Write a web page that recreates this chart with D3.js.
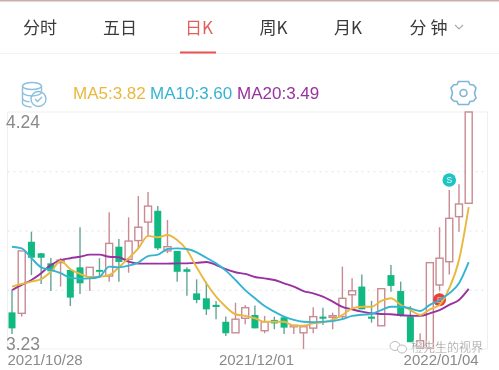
<!DOCTYPE html>
<html>
<head>
<meta charset="utf-8">
<script src="https://d3js.org/d3.v7.min.js"></script>
<style>
    html, body { margin: 0; padding: 0; background: #fff; }
    svg { display: block; filter: blur(0.4px); }
    text { font-family: "Noto Sans CJK SC", "Noto Sans", sans-serif; }
    .num { font-family: "Liberation Sans", sans-serif; }
</style>
</head>
<body>
<div id="chart"></div>
<script>
const tabs = ["分时", "五日", "日K", "周K", "月K", "分 钟"];
const legendLabels = ["MA5:3.82", "MA10:3.60", "MA20:3.49"];
const priceLabels = [4.24, 3.23];
const gridPrices = [3.9875, 3.735, 3.4825];
const dateTicks = [0, 25, 47];
const dateLabels = ["2021/10/28", "2021/12/01", "2022/01/04"];

const opens = [3.386, 3.382, 3.687, 3.638, 3.595, 3.598, 3.567, 3.578, 3.538, 3.567, 3.541, 3.666,
    3.612, 3.692, 3.771, 3.819, 3.648, 3.648, 3.570, 3.467, 3.446, 3.418, 3.346, 3.299,
    3.361, 3.375, 3.308, 3.354, 3.365, 3.325, 3.299, 3.319, 3.368, 3.365, 3.368, 3.461,
    3.496, 3.368, 3.329, 3.545, 3.477, 3.368, 3.234, 3.234, 3.503, 3.602, 3.794, 3.851];
const closes = [3.318, 3.648, 3.619, 3.619, 3.561, 3.609, 3.449, 3.510, 3.578, 3.559, 3.680, 3.601,
    3.690, 3.749, 3.839, 3.659, 3.666, 3.559, 3.559, 3.439, 3.399, 3.409, 3.297, 3.357,
    3.406, 3.318, 3.346, 3.339, 3.321, 3.331, 3.325, 3.368, 3.359, 3.372, 3.446, 3.478,
    3.399, 3.359, 3.487, 3.499, 3.371, 3.259, 3.265, 3.598, 3.617, 3.787, 3.848, 4.24];
const highs = [3.481, 3.648, 3.730, 3.639, 3.618, 3.618, 3.567, 3.749, 3.578, 3.617, 3.813, 3.699,
    3.791, 3.882, 3.899, 3.839, 3.780, 3.648, 3.578, 3.527, 3.517, 3.435, 3.368, 3.427,
    3.418, 3.415, 3.371, 3.368, 3.371, 3.331, 3.331, 3.408, 3.406, 3.385, 3.581, 3.531,
    3.548, 3.435, 3.487, 3.588, 3.517, 3.413, 3.297, 3.598, 3.749, 3.908, 3.932, 4.24];
const lows = [3.294, 3.368, 3.545, 3.507, 3.477, 3.496, 3.413, 3.464, 3.477, 3.533, 3.517, 3.517,
    3.555, 3.656, 3.709, 3.652, 3.638, 3.517, 3.457, 3.425, 3.375, 3.357, 3.285, 3.299,
    3.336, 3.318, 3.297, 3.314, 3.294, 3.294, 3.23, 3.297, 3.332, 3.314, 3.354, 3.403,
    3.399, 3.342, 3.329, 3.474, 3.368, 3.259, 3.23, 3.23, 3.481, 3.548, 3.730, 3.851];

const ma5 = [3.496, 3.507, 3.517, 3.528, 3.559, 3.605, 3.570, 3.550, 3.536, 3.538, 3.545, 3.578,
    3.617, 3.659, 3.712, 3.706, 3.716, 3.695, 3.652, 3.578, 3.510, 3.453, 3.410, 3.378,
    3.371, 3.361, 3.346, 3.346, 3.346, 3.329, 3.329, 3.339, 3.344, 3.354, 3.375, 3.403,
    3.410, 3.410, 3.435, 3.446, 3.418, 3.396, 3.375, 3.399, 3.418, 3.489, 3.609, 3.835];
const ma10 = [3.666, 3.659, 3.617, 3.578, 3.567, 3.553, 3.534, 3.530, 3.531, 3.538, 3.581, 3.578,
    3.585, 3.598, 3.626, 3.632, 3.656, 3.659, 3.656, 3.642, 3.619, 3.595, 3.564, 3.524,
    3.481, 3.446, 3.413, 3.389, 3.368, 3.354, 3.346, 3.344, 3.346, 3.349, 3.357, 3.371,
    3.376, 3.379, 3.396, 3.410, 3.410, 3.403, 3.392, 3.418, 3.439, 3.467, 3.510, 3.600];
const ma20 = [3.481, 3.503, 3.524, 3.553, 3.588, 3.609, 3.617, 3.623, 3.632, 3.632, 3.623, 3.621,
    3.602, 3.594, 3.594, 3.594, 3.594, 3.595, 3.595, 3.597, 3.601, 3.588, 3.570, 3.557,
    3.550, 3.537, 3.531, 3.524, 3.510, 3.496, 3.477, 3.467, 3.453, 3.432, 3.410, 3.399,
    3.389, 3.382, 3.379, 3.378, 3.374, 3.372, 3.371, 3.382, 3.396, 3.418, 3.439, 3.486];

const buyIndex = 44;
const sellIndex = 45;

const width = 499;
const height = 370;
const red = "#c98a92";
const green = "#10b981";
const greenWick = "#63a595";
const lineColors = ["#e8b83f", "#35b4d2", "#99329f"];

const svg = d3.select("#chart")
    .append("svg")
    .attr("width", width)
    .attr("height", height);

// top strip and tab bar
svg.append("rect").attr("width", width).attr("height", 1.5).attr("fill", "#c9aeaa");
svg.append("line")
    .attr("x1", 0).attr("x2", width).attr("y1", 53.5).attr("y2", 53.5)
    .attr("stroke", "#f3f3f3");

const tabCenters = [40, 120, 199, 273.5, 348, 428.5];
svg.selectAll(".tab")
    .data(tabs)
    .enter().append("text")
    .attr("class", "tab")
    .attr("x", (d, i) => tabCenters[i])
    .attr("y", 34)
    .attr("text-anchor", "middle")
    .attr("font-size", 17)
    .attr("fill", (d, i) => i == 2 ? "#e0615c" : "#3a3a3a")
    .text(d => d);

svg.append("rect")
    .attr("x", 180).attr("y", 51.5).attr("width", 36).attr("height", 2)
    .attr("fill", "#e8534f");

svg.append("path")
    .attr("d", "M455,25l4,4l4,-4")
    .attr("fill", "none")
    .attr("stroke", "#aaa")
    .attr("stroke-width", 1.2);

// database icon
const dbIcon = svg.append("g")
    .attr("fill", "none")
    .attr("stroke", "#8cbfdc")
    .attr("stroke-width", 1.4);
dbIcon.append("ellipse").attr("cx", 32).attr("cy", 86).attr("rx", 9.5).attr("ry", 3.5);
dbIcon.append("path").attr("d", "M22.5,86v17c0,2.5 5,4 9,4 M41.5,86v5 M22.5,92c0,2.5 5,4 9.5,4s9.5,-1.5 9.5,-4 M22.5,98c0,2 3,3.5 7,3.8");
dbIcon.append("circle").attr("cx", 38.5).attr("cy", 99).attr("r", 7.5);
dbIcon.append("path").attr("d", "M35,99l2.5,2.5l4.5,-4.5");

// gear icon
const gear = svg.append("g").attr("transform", "translate(463.5,93)")
    .attr("fill", "none")
    .attr("stroke", "#7fb6d6")
    .attr("stroke-width", 1.6);
gear.append("path").attr("d", "M-5,-11.5h10l1.5,3l3.5,0.5l2.5,3l-1.5,5l1.5,5l-2.5,3l-3.5,0.5l-1.5,3h-10l-1.5,-3l-3.5,-0.5l-2.5,-3l1.5,-5l-1.5,-5l2.5,-3l3.5,-0.5z");
gear.append("circle").attr("r", 3.5);

// legend
const legendX = [73, 150, 237];
svg.selectAll(".legend")
    .data(legendLabels)
    .enter().append("text")
    .attr("class", "legend num")
    .attr("x", (d, i) => legendX[i])
    .attr("y", 98.5)
    .attr("font-size", 17)
    .attr("fill", (d, i) => lineColors[i])
    .text(d => d);

// frame
const frameLeft = 7.5, frameRight = 487.5, frameTop = 112, frameBottom = 349;
svg.append("rect")
    .attr("x", frameLeft).attr("y", frameTop)
    .attr("width", frameRight - frameLeft).attr("height", frameBottom - frameTop)
    .attr("fill", "none")
    .attr("stroke", "#efefef");

const x = d3.scaleLinear().domain([0, 47]).range([12, 468.7]);
const y = d3.scaleLinear().domain([3.23, 4.24]).range([frameBottom, frameTop]);

// dotted price grid
const grid = svg.append("g")
    .attr("transform", `translate(${frameLeft},0)`)
    .call(d3.axisRight(y).tickValues(gridPrices).tickSize(frameRight - frameLeft).tickFormat(""));
grid.select(".domain").remove();
grid.selectAll("line").attr("stroke", "#e2e2e2").attr("stroke-dasharray", "2,4");

// candles
const candles = d3.range(opens.length);
const isUp = i => closes[i] >= opens[i];
const bodyWidth = 7;

svg.append("g").selectAll("line")
    .data(candles)
    .enter().append("line")
    .attr("x1", i => x(i))
    .attr("x2", i => x(i))
    .attr("y1", i => y(highs[i]))
    .attr("y2", i => y(lows[i]))
    .attr("stroke", i => isUp(i) ? red : greenWick)
    .attr("stroke-width", 1.4);

svg.append("g").selectAll("rect")
    .data(candles)
    .enter().append("rect")
    .attr("x", i => x(i) - bodyWidth / 2)
    .attr("y", i => y(Math.max(opens[i], closes[i])))
    .attr("width", bodyWidth)
    .attr("height", i => Math.max(1.5, Math.abs(y(opens[i]) - y(closes[i]))))
    .attr("fill", i => isUp(i) ? "#fff" : green)
    .attr("stroke", i => isUp(i) ? red : "none")
    .attr("stroke-width", 1.4);

// buy marker sits under the lines
svg.append("line")
    .attr("x1", x(buyIndex)).attr("x2", x(buyIndex))
    .attr("y1", y(lows[buyIndex])).attr("y2", y(3.465))
    .attr("stroke", "#d8b070")
    .attr("stroke-dasharray", "1.5,1.5");
svg.append("circle")
    .attr("cx", x(buyIndex)).attr("cy", y(3.44)).attr("r", 6.5)
    .attr("fill", "#e8403f");
svg.append("text")
    .attr("class", "num")
    .attr("x", x(buyIndex)).attr("y", y(3.44) + 3.2)
    .attr("text-anchor", "middle")
    .attr("font-size", 8.5)
    .attr("fill", "#f2b0a8")
    .text("B");

// moving averages
const line = d3.line()
    .x((d, i) => x(i))
    .y(d => y(d))
    .curve(d3.curveMonotoneX);

[ma20, ma5, ma10].forEach((series, k) => {
    svg.append("path")
        .datum(series)
        .attr("fill", "none")
        .attr("stroke", [lineColors[2], lineColors[0], lineColors[1]][k])
        .attr("stroke-width", 1.9)
        .attr("d", line);
});

// sell marker
svg.append("circle")
    .attr("cx", x(sellIndex)).attr("cy", y(3.95)).attr("r", 6.8)
    .attr("fill", "#1fc4c2");
svg.append("text")
    .attr("class", "num")
    .attr("x", x(sellIndex)).attr("y", y(3.95) + 3.2)
    .attr("text-anchor", "middle")
    .attr("font-size", 8.5)
    .attr("fill", "#e8fbfa")
    .text("S");

// price labels
svg.selectAll(".price")
    .data(priceLabels)
    .enter().append("text")
    .attr("class", "price num")
    .attr("x", 6)
    .attr("y", (d, i) => i == 0 ? y(d) + 16 : y(d) + 1)
    .attr("font-size", 17.5)
    .attr("fill", "#8a8a8a")
    .text(d => d.toFixed(2));

// date labels
const xAxis = svg.append("g")
    .attr("transform", `translate(0,${frameBottom})`)
    .call(d3.axisBottom(x).tickValues(dateTicks).tickSize(0).tickFormat((d, i) => dateLabels[i]));
xAxis.select(".domain").remove();
xAxis.selectAll("text")
    .attr("class", "num")
    .attr("y", 5.5)
    .attr("font-size", 15)
    .attr("fill", "#8a8a8a")
    .attr("text-anchor", (d, i) => ["start", "middle", "end"][i])
    .attr("dx", (d, i) => [-5, 1, 9.5][i]);

// watermark
const wm = svg.append("g");
wm.append("text")
    .attr("x", 411).attr("y", 352)
    .attr("font-size", 12)
    .attr("fill", "#8f8f8f")
    .attr("stroke", "#fff")
    .attr("stroke-width", 0.25)
    .text("橙先生的视界");
wm.append("ellipse").attr("cx", 395).attr("cy", 346).attr("rx", 5).attr("ry", 4.5)
    .attr("fill", "#fff").attr("stroke", "#bbb");
wm.append("ellipse").attr("cx", 402).attr("cy", 349).attr("rx", 4.5).attr("ry", 4)
    .attr("fill", "#fff").attr("stroke", "#bbb");
</script>
</body>
</html>
